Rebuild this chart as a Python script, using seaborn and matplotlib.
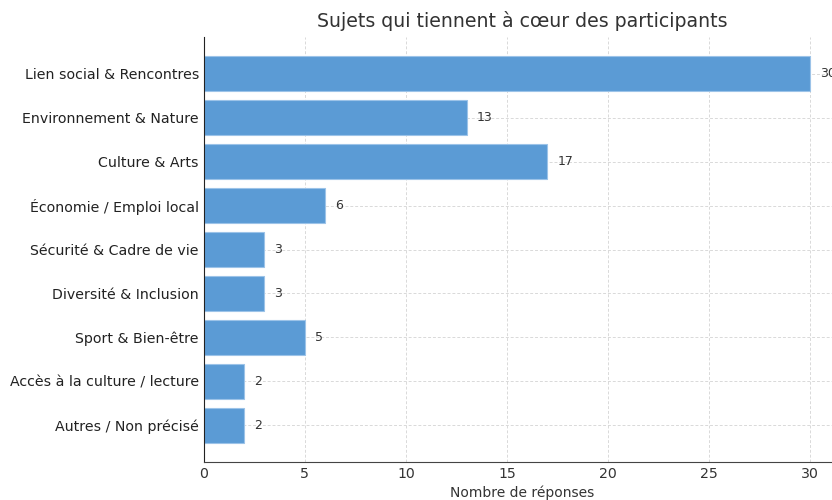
import matplotlib
matplotlib.use("Agg")
import matplotlib.pyplot as plt
import seaborn as sns
import pandas as pd

# Données
sujets = [
    "Lien social & Rencontres",
    "Environnement & Nature",
    "Culture & Arts",
    "Économie / Emploi local",
    "Sécurité & Cadre de vie",
    "Diversité & Inclusion",
    "Sport & Bien-être",
    "Accès à la culture / lecture",
    "Autres / Non précisé",
]
reponses = [30, 13, 17, 6, 3, 3, 5, 2, 2]

df = pd.DataFrame({"Sujet": sujets, "Réponses": reponses})

sns.set_style("white")
plt.rcParams["font.family"] = ["DejaVu Sans"]

fig = plt.figure(figsize=(8.32, 5), dpi=100)
# axes volontairement coupés à droite comme sur l'image d'origine
ax = fig.add_axes([0.245, 0.076, 0.765, 0.850])

sns.barplot(data=df, y="Sujet", x="Réponses", orient="h", color="#5B9BD5",
            saturation=1, width=0.8, edgecolor="#9CC3E8", linewidth=0.8, ax=ax)

ax.set_xlim(0, 31.5)
ax.set_ylim(len(sujets) - 1 + 0.84, -0.84)

# étiquettes de valeurs
for i, v in enumerate(reponses):
    ax.text(v + 0.5, i, str(v), va="center", ha="left", fontsize=9, color="#333333")

ax.grid(True, linestyle=(0, (3, 2)), color="#d9d9d9", linewidth=0.7)
ax.set_axisbelow(True)
ax.set_xticks([0, 5, 10, 15, 20, 25, 30])
ax.tick_params(axis="both", labelsize=10.2, colors="#333333", length=3,
               direction="inout", pad=2)
for lab in ax.get_yticklabels():
    lab.set_color("#222222")

ax.spines["top"].set_visible(False)
ax.spines["right"].set_visible(False)
ax.spines["left"].set_color("#222222")
ax.spines["bottom"].set_color("#444444")

ax.set_ylabel("")
ax.set_xlabel("Nombre de réponses", fontsize=10, color="#333333", labelpad=3)
ax.set_title("Sujets qui tiennent à cœur des participants", fontsize=13.6,
             color="#333333", pad=7)

fig.savefig("out.png", dpi=100)
